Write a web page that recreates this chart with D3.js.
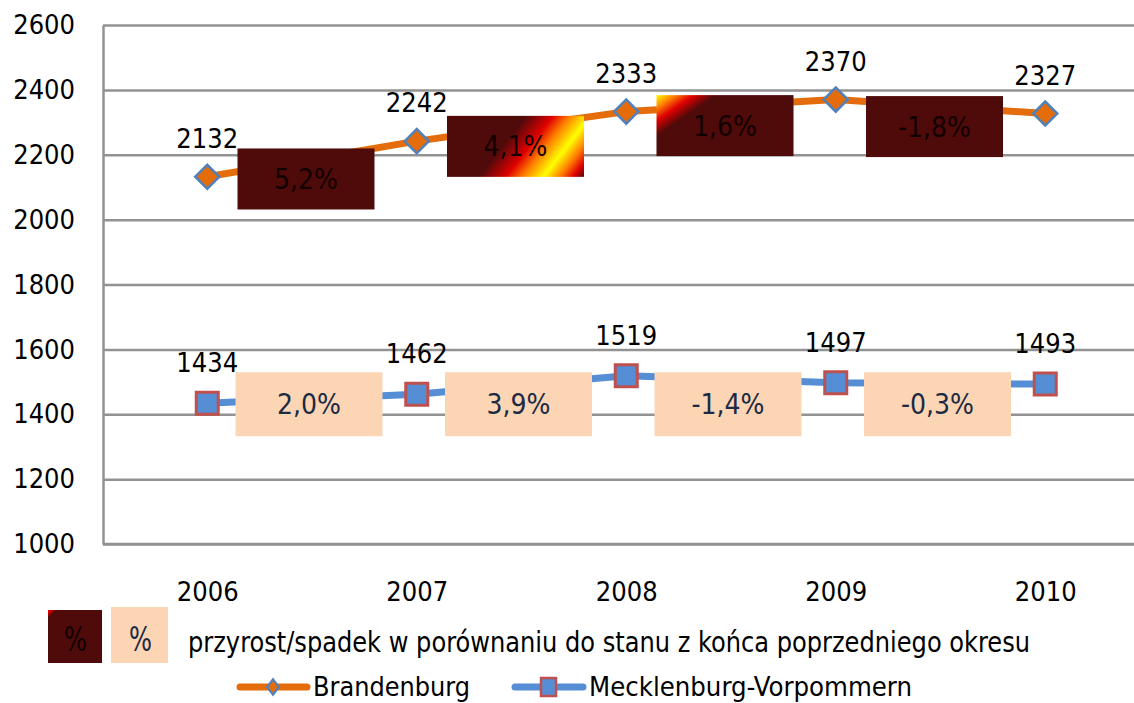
<!DOCTYPE html>
<html lang="pl">
<head>
<meta charset="UTF-8">
<title>Brandenburg / Mecklenburg-Vorpommern</title>
<script src="https://d3js.org/d3.v7.min.js"></script>
<style>
    body { margin: 0; background: #fff; }
    svg { display: block; }
    text { font-family: "DejaVu Sans Condensed", "DejaVu Sans", sans-serif; }
    .tick line { stroke: #929292; stroke-width: 2.5; }
    .domain { stroke: #929292; stroke-width: 2.5; }
    .tick text { font-size: 27px; fill: #000; }
</style>
</head>
<body>
<svg width="1134" height="703"></svg>

<script>
// dane
const years = ["2006", "2007", "2008", "2009", "2010"];
const brandenburg = [2132, 2242, 2333, 2370, 2327];
const mecklenburg = [1434, 1462, 1519, 1497, 1493];
const brandenburgChange = [5.2, 4.1, 1.6, -1.8];
const mecklenburgChange = [2.0, 3.9, -1.4, -0.3];
const yTicks = [1000, 1200, 1400, 1600, 1800, 2000, 2200, 2400, 2600];

const orange = "#e46c0a", blue = "#558ed5";
const darkRed = "#4f0a0a", peach = "#fcd5b5";

const svg = d3.select("svg");
const defs = svg.append("defs");

const x = d3.scalePoint().domain(years).range([102.5, 1150]).padding(0.5);
const y = d3.scaleLinear().domain([1000, 2600]).range([544, 25]);

// siatka + os Y
svg.append("g")
    .attr("transform", "translate(103,0)")
    .call(d3.axisLeft(y).tickValues(yTicks).tickFormat(d3.format("d"))
        .tickSizeInner(-1031).tickSizeOuter(0).tickPadding(28))
    .call(g => g.selectAll(".tick text").attr("text-anchor", "end"));

// os X
svg.append("g")
    .attr("transform", "translate(0,544)")
    .call(d3.axisBottom(x).tickSize(0).tickPadding(38))
    .call(g => g.select(".domain").attr("d", "M103,0H1150"));

// gradient "ogien" w ukladzie uzytkownika
function fire(id, x1, y1, x2, y2, stops) {
    const g = defs.append("linearGradient").attr("id", id)
        .attr("gradientUnits", "userSpaceOnUse")
        .attr("x1", x1).attr("y1", y1).attr("x2", x2).attr("y2", y2);
    stops.forEach(s => g.append("stop").attr("offset", s[0]).attr("stop-color", s[1]));
    return "url(#" + id + ")";
}

const line = d3.line().x((d, i) => x(years[i])).y(d => y(d));

function drawSeries(values, color) {
    svg.append("path")
        .datum(values)
        .attr("d", line)
        .attr("fill", "none")
        .attr("stroke", color)
        .attr("stroke-width", 7)
        .attr("stroke-linejoin", "round");
}

drawSeries(brandenburg, orange);
drawSeries(mecklenburg, blue);

// etykiety procentowe (prostokaty)
function fmt(v) {
    return v.toFixed(1).replace(".", ",") + "%";
}

// cyFn: srodek prostokata w pionie dla odcinka i
function drawBoxes(values, changes, w, h, dx, cyFn, fillFn, textColor) {
    const g = svg.append("g");
    changes.forEach((c, i) => {
        const cx = (x(years[i]) + x(years[i + 1])) / 2 + dx;
        const cy = cyFn(i);
        const bx = cx - w / 2, by = cy - h / 2;
        g.append("rect")
            .attr("x", bx).attr("y", by)
            .attr("width", w).attr("height", h)
            .attr("fill", fillFn(i, bx, by, w, h));
        g.append("text")
            .attr("x", cx).attr("y", cy)
            .attr("dy", "0.36em")
            .attr("text-anchor", "middle")
            .attr("font-size", 28)
            .attr("fill", textColor)
            .text(fmt(c));
    });
}

drawBoxes(brandenburg, brandenburgChange, 137, 61, -6,
    i => y((brandenburg[i] + brandenburg[i + 1]) / 2) + 20,
    (i, bx, by, w, h) => {
        if (i === 1) {
            // pas ognia w prawym dolnym rogu
            return fire("fire1", bx + w - 69.4, by + h - 54, bx + w + 1.6, by + h + 1.2, [
                [0, darkRed], [0.05, darkRed], [0.29, "#e00000"], [0.44, "#ff8000"],
                [0.62, "#ffff00"], [0.76, "#ff8000"], [0.88, "#e00000"], [0.98, darkRed], [1, darkRed]
            ]);
        }
        if (i === 2) {
            // ogien w lewym gornym rogu
            return fire("fire2", bx, by, bx + 19.4, by + 28, [
                [0, "#ffff00"], [0.32, "#ff8000"], [0.62, "#e00000"], [1, darkRed]
            ]);
        }
        return darkRed;
    }, "#120000");

// prostokaty MV na jednym poziomie, tuz pod minimum serii
drawBoxes(mecklenburg, mecklenburgChange, 147, 64, -3,
    () => y(d3.min(mecklenburg)) + 1, () => peach, "#1c2a44");

// znaczniki
svg.append("g").selectAll("path")
    .data(brandenburg)
    .join("path")
    .attr("d", d3.symbol(d3.symbolSquare).size(17 * 17))
    .attr("transform", (d, i) => `translate(${x(years[i])},${y(d)}) rotate(45)`)
    .attr("fill", orange)
    .attr("stroke", "#4f81bd")
    .attr("stroke-width", 2.5);

svg.append("g").selectAll("path")
    .data(mecklenburg)
    .join("path")
    .attr("d", d3.symbol(d3.symbolSquare).size(22 * 22))
    .attr("transform", (d, i) => `translate(${x(years[i])},${y(d)})`)
    .attr("fill", blue)
    .attr("stroke", "#c0504d")
    .attr("stroke-width", 3);

// etykiety wartosci
function drawValues(values, lift) {
    svg.append("g").selectAll("text")
        .data(values)
        .join("text")
        .attr("x", (d, i) => x(years[i]))
        .attr("y", d => y(d) - lift)
        .attr("text-anchor", "middle")
        .attr("font-size", 27)
        .attr("fill", "#000")
        .text(d => d);
}
drawValues(brandenburg, 29);
drawValues(mecklenburg, 31);

// legenda procentow
const lg = svg.append("g");
lg.append("rect").attr("x", 48).attr("y", 610).attr("width", 54).attr("height", 53)
    .attr("fill", fire("fire3", 48, 610, 52, 614, [[0, "#ff0000"], [0.6, "#c00000"], [1, darkRed]]));
lg.append("rect").attr("x", 111).attr("y", 607).attr("width", 57).attr("height", 56)
    .attr("fill", peach);
lg.append("text").attr("x", 64).attr("y", 651)
    .attr("font-size", 34).attr("textLength", 23).attr("lengthAdjust", "spacingAndGlyphs")
    .attr("fill", "#120000").text("%");
lg.append("text").attr("x", 129).attr("y", 651)
    .attr("font-size", 34).attr("textLength", 23).attr("lengthAdjust", "spacingAndGlyphs")
    .attr("fill", "#1c2a44").text("%");
lg.append("text").attr("x", 188).attr("y", 652)
    .attr("font-size", 28).attr("fill", "#000")
    .attr("textLength", 842).attr("lengthAdjust", "spacingAndGlyphs")
    .text("przyrost/spadek w porównaniu do stanu z końca poprzedniego okresu");

// legenda serii
const sg = svg.append("g");
sg.append("line").attr("x1", 240).attr("x2", 307).attr("y1", 687).attr("y2", 687)
    .attr("stroke", orange).attr("stroke-width", 7).attr("stroke-linecap", "round");
sg.append("path").attr("d", d3.symbol(d3.symbolSquare).size(11 * 11))
    .attr("transform", "translate(273,687) scale(0.75,1) rotate(45)")
    .attr("fill", orange).attr("stroke", "#4f81bd").attr("stroke-width", 2.5);
sg.append("text").attr("x", 313).attr("y", 696).attr("font-size", 27)
    .attr("textLength", 157).attr("lengthAdjust", "spacingAndGlyphs").text("Brandenburg");
sg.append("line").attr("x1", 515).attr("x2", 583).attr("y1", 687).attr("y2", 687)
    .attr("stroke", blue).attr("stroke-width", 7).attr("stroke-linecap", "round");
sg.append("rect").attr("x", 541).attr("y", 678).attr("width", 15).attr("height", 18)
    .attr("fill", blue).attr("stroke", "#c0504d").attr("stroke-width", 2.5);
sg.append("text").attr("x", 589).attr("y", 696).attr("font-size", 27)
    .attr("textLength", 323).attr("lengthAdjust", "spacingAndGlyphs").text("Mecklenburg-Vorpommern");
</script>
</body>
</html>
